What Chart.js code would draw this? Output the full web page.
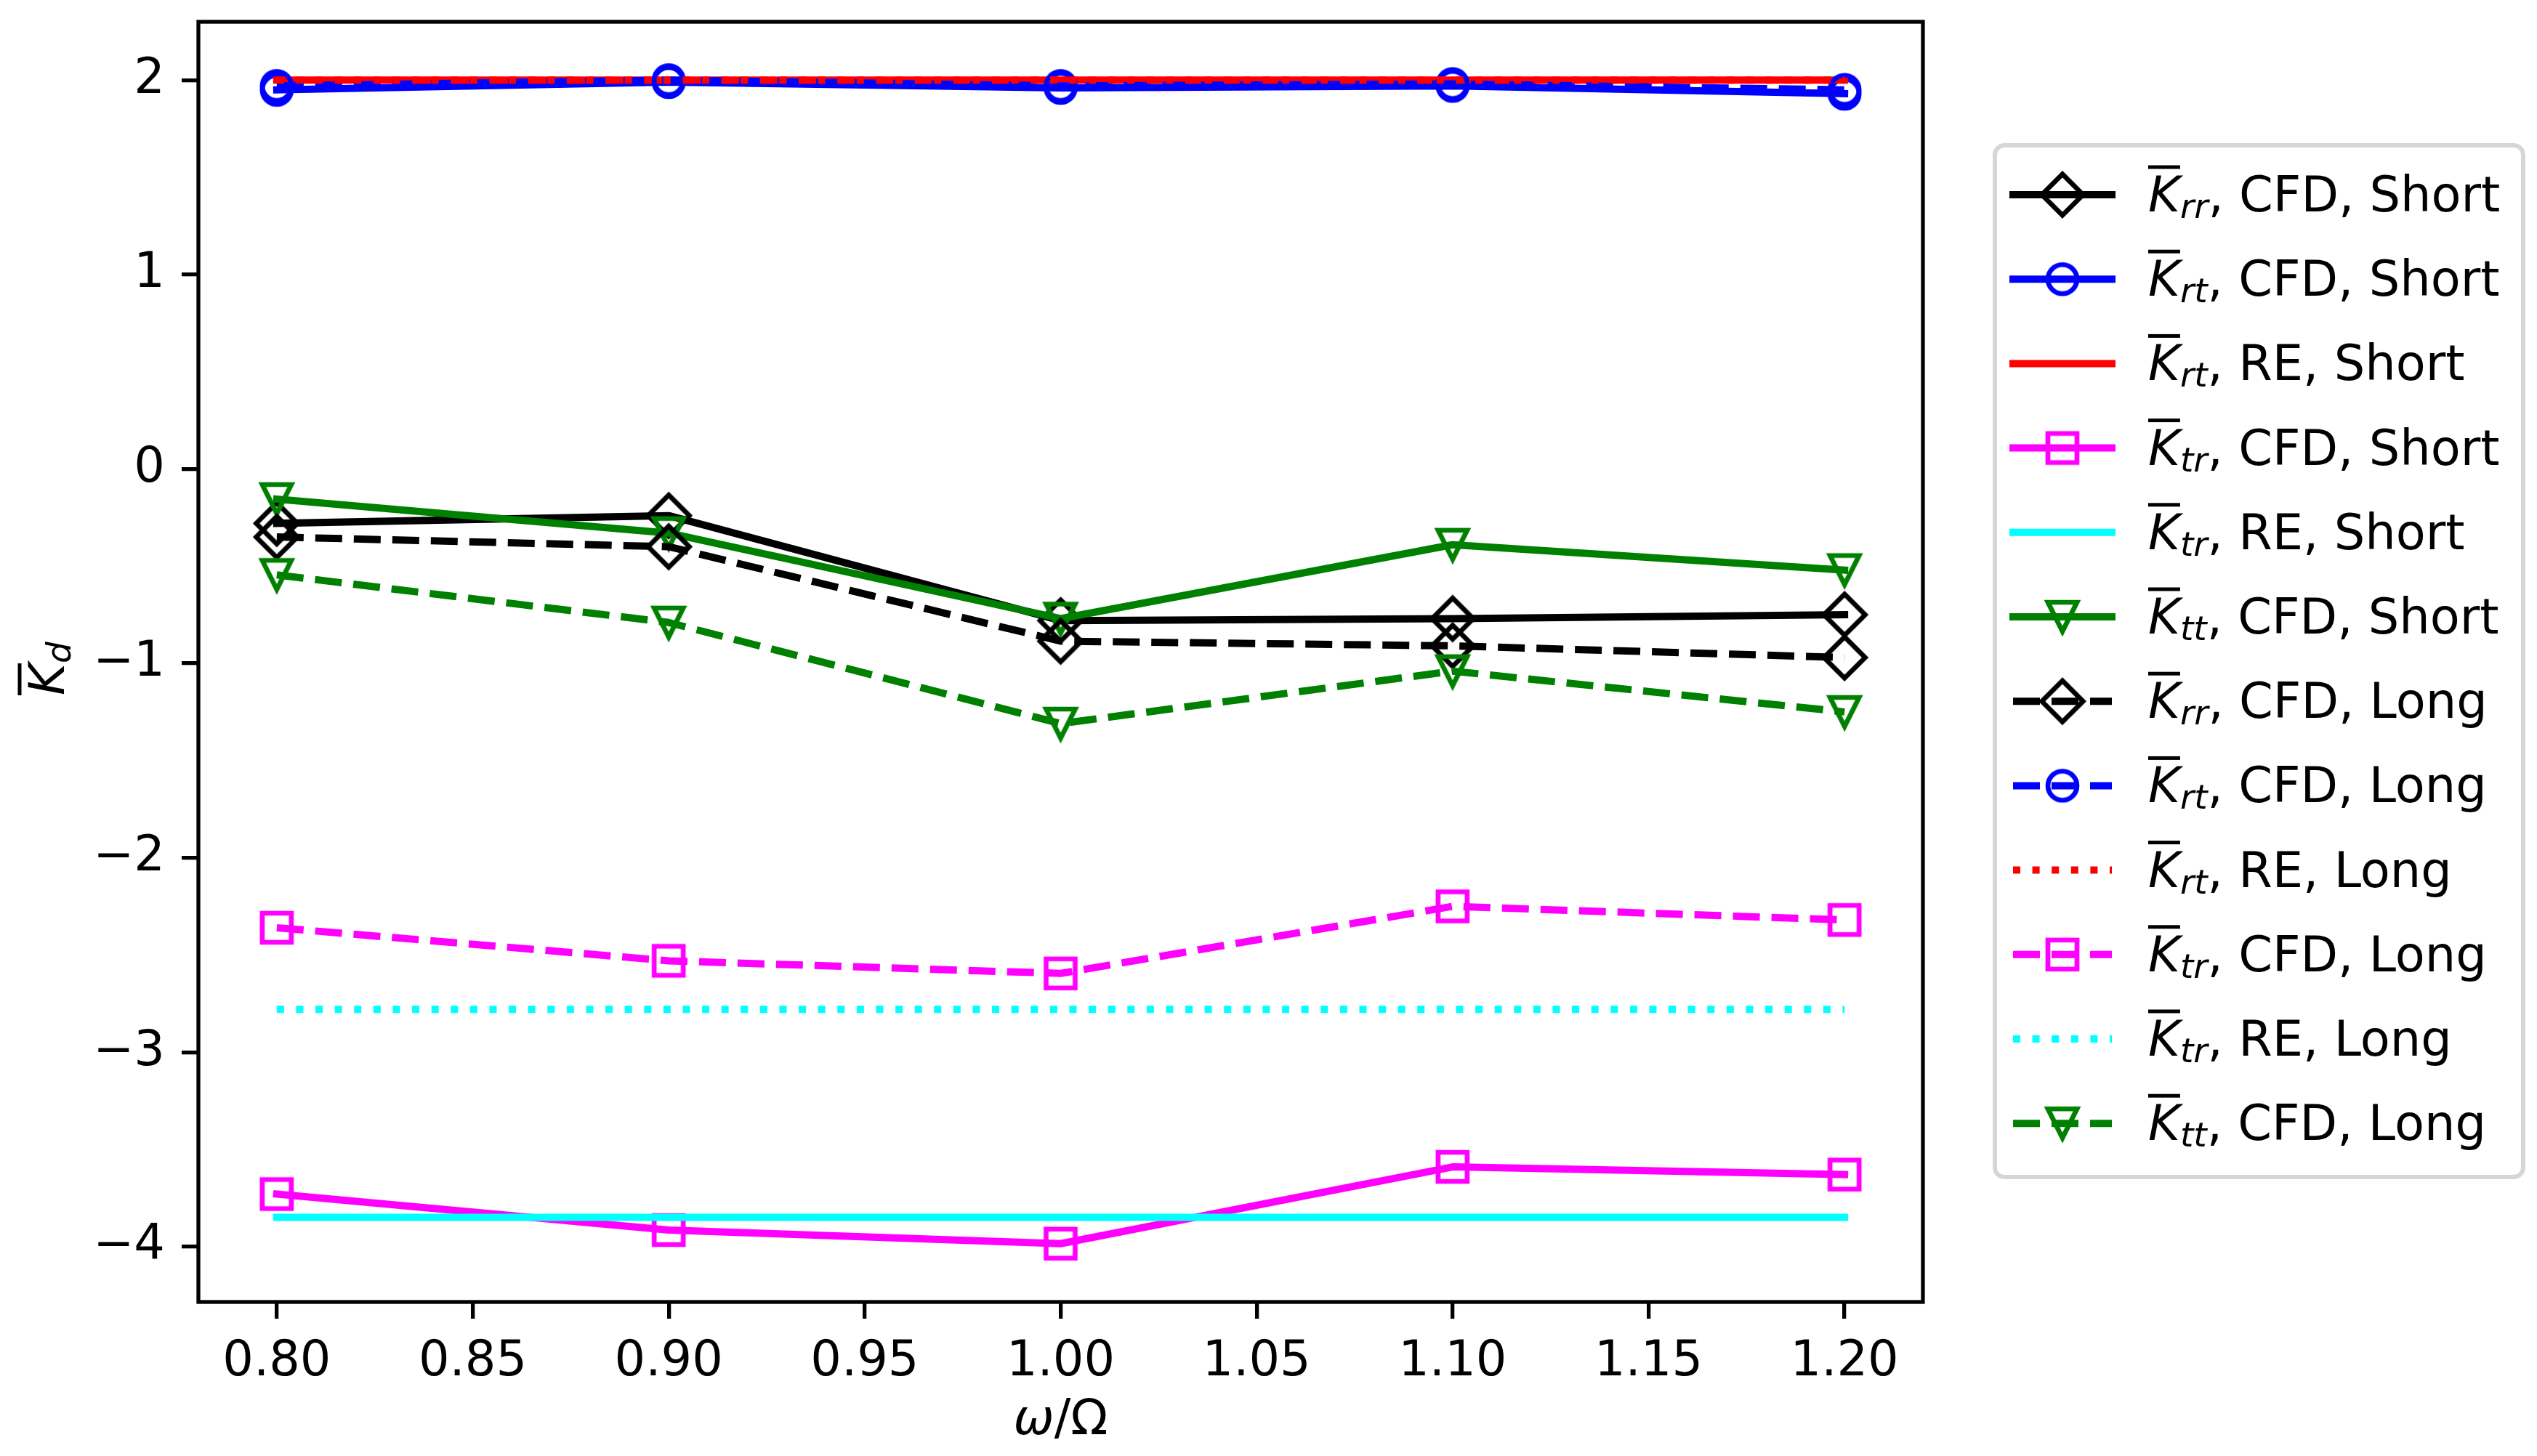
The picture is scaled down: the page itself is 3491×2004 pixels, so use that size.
<!DOCTYPE html>
<html>
<head>
<meta charset="utf-8">
<script src="https://cdn.jsdelivr.net/npm/chart.js@4.4.1/dist/chart.umd.min.js"></script>
<style>
  html, body { margin: 0; padding: 0; background: #fff; }
  canvas { display: block; }
</style>
</head>
<body>
<canvas id="myChart" width="3491" height="2004" style="width:3491px;height:2004px"></canvas>
<script>
// data
const omega = [0.80, 0.90, 1.00, 1.10, 1.20];

const krrCfdShort = [-0.28, -0.24, -0.78, -0.77, -0.75];
const krtCfdShort = [1.95, 1.99, 1.96, 1.97, 1.93];
const krtReShort  = [2.00, 2.00, 2.00, 2.00, 2.00];
const ktrCfdShort = [-3.73, -3.915, -3.985, -3.59, -3.63];
const ktrReShort  = [-3.85, -3.85, -3.85, -3.85, -3.85];
const kttCfdShort = [-0.155, -0.33, -0.77, -0.39, -0.52];
const krrCfdLong  = [-0.35, -0.40, -0.886, -0.91, -0.97];
const krtCfdLong  = [1.97, 2.00, 1.97, 1.98, 1.95];
const krtReLong   = [2.00, 2.00, 2.00, 2.00, 2.00];
const ktrCfdLong  = [-2.36, -2.53, -2.595, -2.25, -2.32];
const ktrReLong   = [-2.78, -2.78, -2.78, -2.78, -2.78];
const kttCfdLong  = [-0.545, -0.79, -1.31, -1.04, -1.25];

const subs  = ['rr', 'rt', 'rt', 'tr', 'tr', 'tt', 'rr', 'rt', 'rt', 'tr', 'tr', 'tt'];
const tails = [', CFD, Short', ', CFD, Short', ', RE, Short', ', CFD, Short', ', RE, Short', ', CFD, Short',
               ', CFD, Long', ', CFD, Long', ', RE, Long', ', CFD, Long', ', RE, Long', ', CFD, Long'];

const xTicks = [0.80, 0.85, 0.90, 0.95, 1.00, 1.05, 1.10, 1.15, 1.20];
const yTicks = [-4, -3, -2, -1, 0, 1, 2];

// look (matplotlib defaults at this dpi)
const FONT = '"DejaVu Sans"';
const FS = 67;
const LW = 10;
const MEW = 6.7;
const MS = 40;
const DASH = [37, 16];
const DOT = [10, 16.6];

function makeMarker(shape, color) {
  const c = document.createElement('canvas');
  c.width = 80; c.height = 80;
  const g = c.getContext('2d');
  g.strokeStyle = color;
  g.lineWidth = MEW;
  g.lineJoin = 'miter';
  g.beginPath();
  const h = MS / 2;
  if (shape === 'D') {
    const d = MS * Math.SQRT1_2;
    g.moveTo(40, 40 - d); g.lineTo(40 + d, 40); g.lineTo(40, 40 + d); g.lineTo(40 - d, 40);
    g.closePath();
  } else if (shape === 'o') {
    g.arc(40, 40, h, 0, Math.PI * 2);
  } else if (shape === 's') {
    g.rect(40 - h, 40 - h, MS, MS);
  } else if (shape === 'v') {
    g.moveTo(40 - h, 40 - h); g.lineTo(40 + h, 40 - h); g.lineTo(40, 40 + h);
    g.closePath();
  }
  g.stroke();
  return c;
}

const series = [
  { data: krrCfdShort, color: '#000000', marker: 'D', dash: null },
  { data: krtCfdShort, color: '#0000ff', marker: 'o', dash: null },
  { data: krtReShort,  color: '#ff0000', marker: null, dash: null },
  { data: ktrCfdShort, color: '#ff00ff', marker: 's', dash: null },
  { data: ktrReShort,  color: '#00ffff', marker: null, dash: null },
  { data: kttCfdShort, color: '#008000', marker: 'v', dash: null },
  { data: krrCfdLong,  color: '#000000', marker: 'D', dash: DASH },
  { data: krtCfdLong,  color: '#0000ff', marker: 'o', dash: DASH },
  { data: krtReLong,   color: '#ff0000', marker: null, dash: DOT },
  { data: ktrCfdLong,  color: '#ff00ff', marker: 's', dash: DASH },
  { data: ktrReLong,   color: '#00ffff', marker: null, dash: DOT },
  { data: kttCfdLong,  color: '#008000', marker: 'v', dash: DASH },
];
series.forEach(s => { s.img = s.marker ? makeMarker(s.marker, s.color) : null; });

const datasets = series.map((s, i) => ({
  label: 'K̄' + subs[i] + tails[i],
  data: omega.map((x, j) => ({ x: x, y: s.data[j] })),
  borderColor: s.color,
  borderWidth: LW,
  borderDash: s.dash || [],
  borderCapStyle: s.dash ? 'butt' : 'square',
  borderJoinStyle: 'round',
  tension: 0,
  fill: false,
  pointStyle: s.img || false,
  pointRadius: s.img ? 20 : 0,
  pointHoverRadius: s.img ? 20 : 0,
  order: series.length - i,
}));

function drawKbar(ctx, x, y, sub) {
  ctx.font = 'italic ' + FS + 'px ' + FONT;
  const kw = ctx.measureText('K').width;
  ctx.fillText('K', x, y);
  ctx.fillRect(x, y - 63.5, kw, 5);
  ctx.font = 'italic ' + (FS * 0.7) + 'px ' + FONT;
  ctx.fillText(sub, x + kw, y + 9);
  return x + kw + ctx.measureText(sub).width;
}

function noPad(s) {
  s.paddingTop = 0; s.paddingBottom = 0; s.paddingLeft = 0; s.paddingRight = 0;
}

const extras = {
  id: 'extras',
  afterDatasetsDraw(chart) {
    const ctx = chart.ctx;
    const a = chart.chartArea;
    ctx.save();
    ctx.strokeStyle = '#000';
    ctx.lineWidth = 5.3;
    ctx.lineJoin = 'miter';
    ctx.strokeRect(a.left, a.top, a.right - a.left, a.bottom - a.top);
    ctx.restore();
  },
  afterDraw(chart) {
    const ctx = chart.ctx;
    ctx.save();
    ctx.fillStyle = '#000';
    ctx.textBaseline = 'alphabetic';
    ctx.textAlign = 'left';

    // x title: omega / Omega
    ctx.font = 'italic ' + FS + 'px ' + FONT;
    const w1 = ctx.measureText('ω').width;
    ctx.font = FS + 'px ' + FONT;
    const w2 = ctx.measureText('/Ω').width;
    const xc = (chart.chartArea.left + chart.chartArea.right) / 2;
    let x0 = xc - (w1 + w2) / 2;
    ctx.font = 'italic ' + FS + 'px ' + FONT;
    ctx.fillText('ω', x0, 1974);
    ctx.font = FS + 'px ' + FONT;
    ctx.fillText('/Ω', x0 + w1, 1974);

    // y title: K-bar sub d
    ctx.save();
    ctx.translate(88, 957);
    ctx.rotate(-Math.PI / 2);
    drawKbar(ctx, 0, 0, 'd');
    ctx.restore();

    // legend
    const bx = 2745, by = 200, bw = 3472 - 2745, bh = 1620 - 200, r = 13;
    ctx.beginPath();
    ctx.moveTo(bx + r, by);
    ctx.arcTo(bx + bw, by, bx + bw, by + bh, r);
    ctx.arcTo(bx + bw, by + bh, bx, by + bh, r);
    ctx.arcTo(bx, by + bh, bx, by, r);
    ctx.arcTo(bx, by, bx + bw, by, r);
    ctx.closePath();
    ctx.fillStyle = 'rgba(255,255,255,0.8)';
    ctx.fill();
    ctx.strokeStyle = 'rgba(204,204,204,0.8)';
    ctx.lineWidth = 6;
    ctx.stroke();

    const hx0 = 2770, hx1 = 2906, step = 116.2;
    series.forEach((s, i) => {
      const yy = 268 + i * step;
      ctx.save();
      ctx.strokeStyle = s.color;
      ctx.lineWidth = LW;
      ctx.setLineDash(s.dash || []);
      ctx.lineCap = s.dash ? 'butt' : 'square';
      ctx.beginPath();
      ctx.moveTo(hx0, yy);
      ctx.lineTo(hx1, yy);
      ctx.stroke();
      ctx.restore();
      if (s.img) {
        ctx.drawImage(s.img, (hx0 + hx1) / 2 - 40, yy - 40);
      }
      ctx.fillStyle = '#000';
      const xe = drawKbar(ctx, 2956, yy + 23, subs[i]);
      ctx.font = FS + 'px ' + FONT;
      ctx.fillText(tails[i], xe, yy + 23);
    });
    ctx.restore();
  }
};

const ctx = document.getElementById('myChart');

new Chart(ctx, {
  type: 'line',
  data: { datasets: datasets },
  plugins: [extras],
  options: {
    responsive: false,
    animation: false,
    events: [],
    layout: { padding: { top: 23, right: 845, bottom: 0, left: 0 } },
    plugins: {
      legend: { display: false },
      tooltip: { enabled: false },
    },
    scales: {
      x: {
        type: 'linear',
        min: 0.78,
        max: 1.22,
        afterBuildTicks: (s) => { s.ticks = xTicks.map(v => ({ value: v })); },
        afterFit: (s) => { s.height = 212; noPad(s); },
        grid: { drawOnChartArea: false, drawTicks: true, tickLength: 23, tickWidth: 5.3, tickColor: '#000', lineWidth: 5.3, color: '#000' },
        border: { display: false },
        ticks: {
          autoSkip: false, maxRotation: 0, minRotation: 0, padding: 20, color: '#000',
          font: { family: 'DejaVu Sans', size: FS },
          callback: (v) => v.toFixed(2),
        },
      },
      y: {
        type: 'linear',
        min: -4.285,
        max: 2.30,
        afterBuildTicks: (s) => { s.ticks = yTicks.map(v => ({ value: v })); },
        afterFit: (s) => { s.width = 273; noPad(s); },
        grid: { drawOnChartArea: false, drawTicks: true, tickLength: 23, tickWidth: 5.3, tickColor: '#000', lineWidth: 5.3, color: '#000' },
        border: { display: false },
        ticks: {
          padding: 23, color: '#000',
          font: { family: 'DejaVu Sans', size: FS },
          callback: (v) => (v < 0 ? '\u2212' + Math.abs(v) : String(v)),
        },
      },
    },
  },
});
</script>
</body>
</html>
